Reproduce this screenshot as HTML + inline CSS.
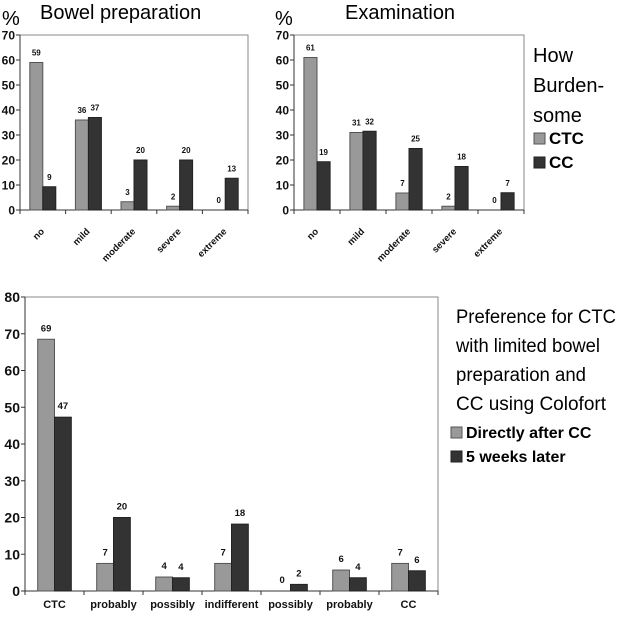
<!DOCTYPE html>
<html><head><meta charset="utf-8"><style>
body{margin:0;background:#fff;width:619px;height:612px;overflow:hidden}
svg text{font-family:"Liberation Sans",Arial,sans-serif}
</style></head><body>
<svg id="c" width="619" height="612" xmlns="http://www.w3.org/2000/svg">
<text x="2" y="25" font-size="20">%</text>
<text x="40" y="19" font-size="20">Bowel preparation</text>
<text x="275" y="25" font-size="20">%</text>
<text x="345" y="19" font-size="20">Examination</text>
<g>
<text x="533" y="62" font-size="20">How</text>
<text x="533" y="92" font-size="20">Burden-</text>
<text x="533" y="122" font-size="20">some</text>
<rect x="534" y="133" width="11" height="11" fill="#999" stroke="#555"/>
<text x="549" y="144" font-size="17" font-weight="bold">CTC</text>
<rect x="534" y="157" width="11" height="11" fill="#333" stroke="#222"/>
<text x="549" y="168" font-size="17" font-weight="bold">CC</text>
</g>
<g>
<text x="456" y="323" font-size="19" textLength="160" lengthAdjust="spacingAndGlyphs">Preference for CTC</text>
<text x="456" y="352" font-size="19" textLength="144" lengthAdjust="spacingAndGlyphs">with limited bowel</text>
<text x="456" y="381" font-size="19" textLength="130" lengthAdjust="spacingAndGlyphs">preparation and</text>
<text x="456" y="410" font-size="19" textLength="150" lengthAdjust="spacingAndGlyphs">CC using Colofort</text>
<rect x="451" y="427" width="11" height="11" fill="#999" stroke="#555"/>
<text x="466" y="438" font-size="16" font-weight="bold">Directly after CC</text>
<rect x="451" y="451" width="11" height="11" fill="#333" stroke="#222"/>
<text x="466" y="462" font-size="16" font-weight="bold">5 weeks later</text>
</g>
</svg>
<script>
const burdenCats=["no","mild","moderate","severe","extreme"];
const bowelCTC=[59,36,3.3,1.5,0];
const bowelCC=[9.3,37,20,20,12.7];
const bowelCTCLabels=["59","36","3","2","0"];
const bowelCCLabels=["9","37","20","20","13"];
const examCTC=[61,31,6.8,1.5,0];
const examCC=[19.3,31.5,24.6,17.4,6.9];
const examCTCLabels=["61","31","7","2","0"];
const examCCLabels=["19","32","25","18","7"];
const burdenTicks=[0,10,20,30,40,50,60,70];
const prefCats=["CTC","probably","possibly","indifferent","possibly","probably","CC"];
const prefDirect=[68.5,7.5,3.8,7.5,0,5.7,7.5];
const prefLater=[47.3,20,3.6,18.2,1.8,3.6,5.5];
const prefDirectLabels=["69","7","4","7","0","6","7"];
const prefLaterLabels=["47","20","4","18","2","4","6"];
const prefTicks=[0,10,20,30,40,50,60,70,80];

const svg=document.getElementById('c');
const NS="http://www.w3.org/2000/svg";
function mk(tag,attrs,parent){const e=document.createElementNS(NS,tag);for(const k in attrs)e.setAttribute(k,attrs[k]);(parent||svg).appendChild(e);return e;}

function chart(o){
  const g=mk('g',{});
  
  
  const y=v=>o.y0-(v/o.max)*(o.y0-o.top);
  const cw=(o.right-o.left)/o.cats.length;
  const frame=mk('rect',{x:o.left,y:o.top,width:o.right-o.left,height:o.y0-o.top,fill:'none',stroke:'#888','stroke-width':1},g);
  
  
  mk('line',{x1:o.left,y1:o.top,x2:o.left,y2:o.y0,stroke:'#333'},g);
  mk('line',{x1:o.left-4,y1:o.y0,x2:o.right,y2:o.y0,stroke:'#333'},g);
  o.ticks.forEach(t=>{
    mk('line',{x1:o.left-4,y1:y(t),x2:o.left,y2:y(t),stroke:'#333'},g);
    const tx=mk('text',{x:o.left-5,y:y(t)+o.tfs*0.36,'font-size':o.tfs,'font-weight':'bold','text-anchor':'end',fill:'#111'},g);
    tx.textContent=t;
    
    
  });
  for(let i=0;i<=o.cats.length;i++){
    const x=o.left+i*cw;
    mk('line',{x1:x,y1:o.y0,x2:x,y2:o.y0+4,stroke:'#333'},g);
  }
  o.cats.forEach((c,i)=>{
    const cx=o.left+(i+0.5)*cw;
    const bw=cw*o.bf;
    [[o.s1,o.l1,'#999','#555'],[o.s2,o.l2,'#333','#222']].forEach((s,j)=>{
      const v=s[0][i];
      const x=cx-bw+j*bw;
      const r=mk('rect',{x:x,y:y(v),width:bw,height:Math.max(0,o.y0-y(v)),fill:s[2],stroke:s[3],'stroke-width':1},g);
      
      
      const lt=mk('text',{x:x+bw/2,y:y(v)-o.lo,'font-size':o.lfs,'font-weight':'bold','text-anchor':'middle',fill:'#111'},g);
      lt.textContent=s[1][i];
      
      
    });
    let lab;
    if(o.rot){
      lab=mk('text',{x:cx+2,y:o.y0+22,'font-size':o.xfs,'font-weight':'bold','text-anchor':'end',transform:`rotate(-45 ${cx+2} ${o.y0+22})`,fill:'#111'},g);
    }else{
      lab=mk('text',{x:cx,y:o.y0+17,'font-size':o.xfs,'font-weight':'bold','text-anchor':'middle',fill:'#111'},g);
    }
    lab.textContent=c;
    
    
  });
}
chart({name:'bowel-preparation-chart',left:20,right:248,top:35,y0:210,max:70,cats:burdenCats,s1:bowelCTC,s2:bowelCC,l1:bowelCTCLabels,l2:bowelCCLabels,ticks:burdenTicks,bf:0.285,tfs:12,lfs:8,xfs:9.5,lo:7,rot:true});
chart({name:'examination-chart',left:294,right:524,top:35,y0:210,max:70,cats:burdenCats,s1:examCTC,s2:examCC,l1:examCTCLabels,l2:examCCLabels,ticks:burdenTicks,bf:0.285,tfs:12,lfs:8,xfs:9.5,lo:7,rot:true});
chart({name:'preference-chart',left:25,right:438,top:297,y0:591,max:80,cats:prefCats,s1:prefDirect,s2:prefLater,l1:prefDirectLabels,l2:prefLaterLabels,ticks:prefTicks,bf:0.285,tfs:14,lfs:9.5,xfs:11,lo:8,rot:false});
</script>
</body></html>
